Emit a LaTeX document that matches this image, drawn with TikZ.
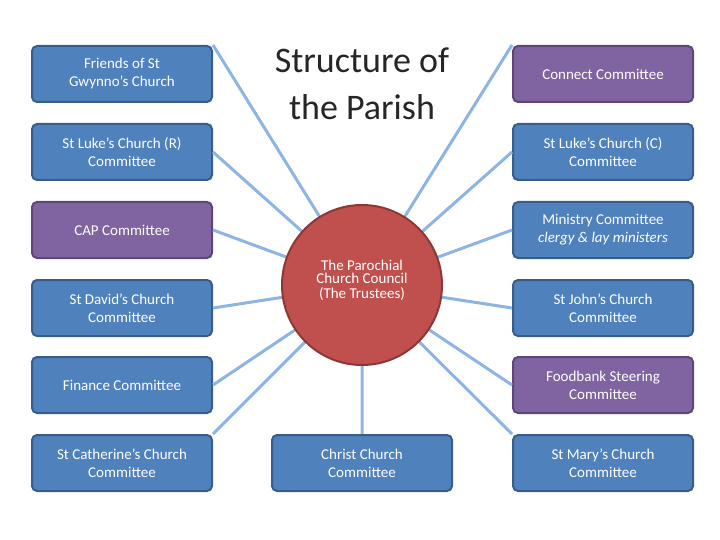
\documentclass[tikz,border=0pt]{standalone}
\usepackage{fontspec}
\setmainfont{Carlito}
\begin{document}
\begin{tikzpicture}[x=1pt,y=-1pt,
  bx/.style={draw=bdr,line width=2pt,rounded corners=5pt,minimum width=180pt,minimum height=56pt,text=white,font=\fontsize{15}{18}\selectfont,align=center,inner sep=2pt},
  blu/.style={bx,fill=bfill},
  pur/.style={bx,fill=pfill,draw=pbdr},
  ln/.style={draw=lnc,line width=3pt}]
\definecolor{bfill}{HTML}{4F81BD}\definecolor{bdr}{HTML}{385D8A}
\definecolor{pfill}{HTML}{8064A2}\definecolor{pbdr}{HTML}{5C4776}
\definecolor{rfill}{HTML}{C0504D}\definecolor{rbdr}{HTML}{8C3836}
\definecolor{lnc}{HTML}{8EB4E3}
\useasboundingbox (0,0) rectangle (720,540);
\coordinate (c) at (362,285);
\node[blu] (l1) at (122,74) {Friends of St\\Gwynno's Church};
\node[blu] (l2) at (122,152) {St Luke's Church (R)\\Committee};
\node[pur] (l3) at (122,230) {CAP Committee};
\node[blu] (l4) at (122,308) {St David's Church\\Committee};
\node[blu] (l5) at (122,385) {Finance Committee};
\node[blu] (l6) at (122,463) {St Catherine's Church\\Committee};
\node[pur] (r1) at (603,74) {Connect Committee};
\node[blu] (r2) at (603,152) {St Luke's Church (C)\\Committee};
\node[blu] (r3) at (603,230) {Ministry Committee\\\textit{clergy \& lay ministers}};
\node[blu] (r4) at (603,308) {St John's Church\\Committee};
\node[pur] (r5) at (603,385) {Foodbank Steering\\Committee};
\node[blu] (r6) at (603,463) {St Mary's Church\\Committee};
\node[blu] (b) at (362,463) {Christ Church\\Committee};
\node[font=\fontsize{36}{47}\selectfont,align=center,text=black!85] (t) at (362,84) {Structure of\\the Parish};
\begin{scope}[on background layer/.style={}]
\end{scope}
\path[ln] (c) -- (l1.north east) (c) -- (l2.east) (c) -- (l3.east) (c) -- (l4.east) (c) -- (l5.east) (c) -- (l6.north east)
 (c) -- (r1.north west) (c) -- (r2.west) (c) -- (r3.west) (c) -- (r4.west) (c) -- (r5.west) (c) -- (r6.north west) (c) -- (b.north);
\node[circle,fill=rfill,draw=rbdr,line width=2pt,minimum size=160pt,text=white,align=center,font=\fontsize{15}{22}\selectfont] (pcc) at (c) {\raisebox{12pt}{\shortstack{The Parochial\\Church Council\\(The Trustees)}}};
\foreach \n in {l1,l2,l3,l4,l5,l6,r1,r2,r3,r4,r5,r6,b} {}
\end{tikzpicture}
\end{document}
